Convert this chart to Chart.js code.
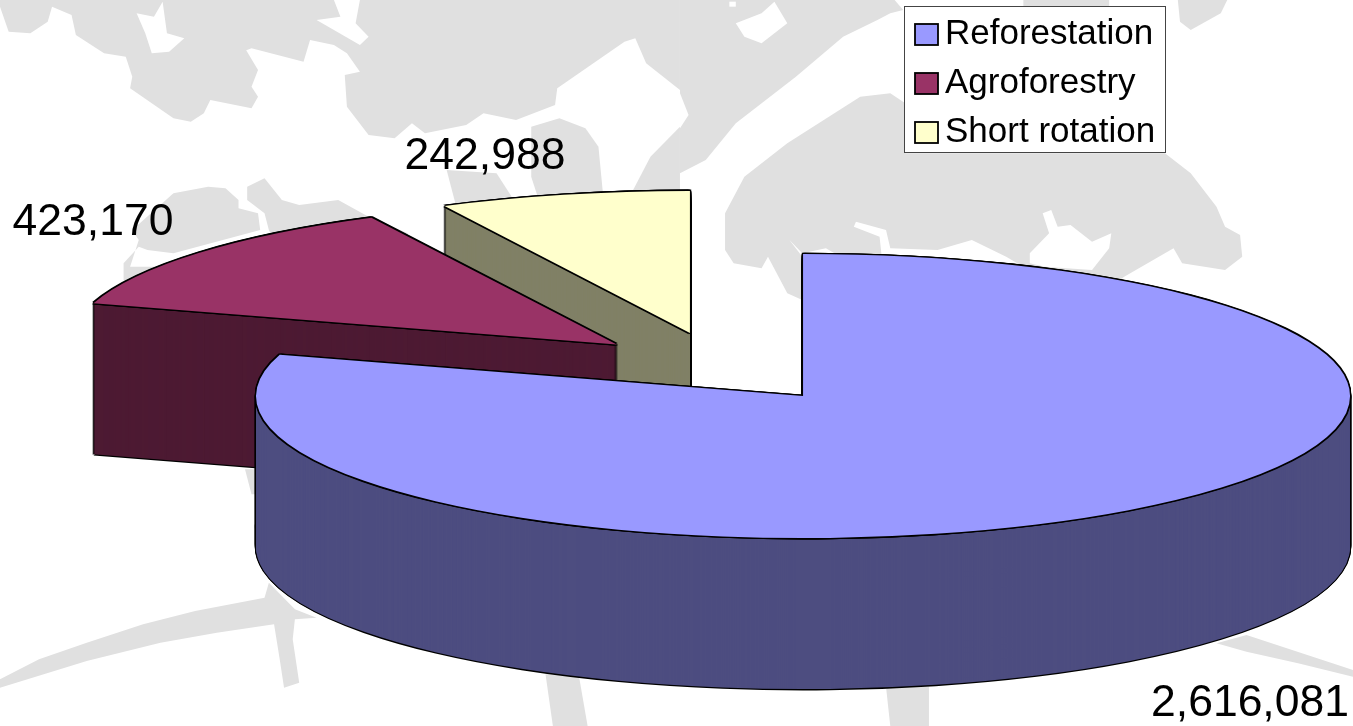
<!DOCTYPE html>
<html>
<head>
<meta charset="utf-8">
<title>Forest area by activity</title>
<script src="https://cdn.jsdelivr.net/npm/chart.js@4/dist/chart.umd.min.js"></script>
<style>
  html, body { margin: 0; padding: 0; background: #fff; }
  canvas { display: block; }
</style>
</head>
<body>
<canvas id="pieChart" width="1353" height="726"></canvas>
<script>
const categories = ['Reforestation', 'Agroforestry', 'Short rotation'];
const areaValues = [2616081, 423170, 242988];
const topColors = ['#9999FF', '#993366', '#FFFFCC'];
const wallColors = ['#4D4D80', '#4D1A33', '#808066'];

// 3D look of the pie
const radiusPx = 547;
const tilt = 0.2596;
const depthPx = 151;
const explodePx = 137;
const lineW = 1.3;

// centre of each value label on the page
const labelSpots = [[1250, 704], [93, 223], [485, 157]];

// watermark map behind the chart, traced in crop coordinates: [offsetX, offsetY, scaleX, colour, points]
const G = '#E0E0E0', W = '#FFFFFF';
const watermark = [
  [0, 0, 2.306, G, [0,20, 20,95, 70,100, 110,65, 120,20, 165,45, 175,105, 240,160, 290,170, 305,230, 300,265, 400,355, 440,365, 470,340, 485,300, 580,325, 595,290, 580,260, 595,210, 565,145, 540,165, 580,145, 700,185, 715,120, 770,135, 800,160, 830,215, 795,225, 800,320, 850,405, 910,415, 950,370, 980,400, 1075,375, 1115,340, 1190,360, 1280,315, 1285,265, 1440,125, 1465,115, 1490,190, 1568,270, 1568,0, 0,0]],
  [0, 0, 2.306, W, [315,40, 355,50, 375,5, 385,100, 425,115, 390,155, 350,160, 335,100]],
  [0, 0, 2.306, W, [770,0, 785,50, 730,60, 830,135, 850,110, 820,70, 830,0]],
  [0, 0, 2.306, G, [1225,380, 1290,355, 1350,385, 1380,440, 1390,575, 1240,590, 1225,530]],
  [0, 0, 2.306, G, [1030,510, 1145,520, 1180,590, 1050,610]],
  [0, 0, 2.306, G, [1568,380, 1500,470, 1460,570, 1568,570]],
  [0, 0, 2.306, G, [400,580, 480,560, 520,565, 550,600, 550,625, 595,640, 600,690, 400,760, 340,750, 320,740, 285,790, 285,840, 330,900, 700,900, 620,690, 610,640, 570,600, 570,560, 610,535, 650,600, 690,615, 780,600, 850,650, 880,665, 940,700, 945,730, 700,800, 300,800, 320,720, 305,690]],
  [680, 0, 2.33, G, [0,0, 225,0, 500,0, 520,30, 490,40, 460,60, 380,110, 270,230, 130,370, 60,480, 0,520, 0,385, 20,345, 0,280]],
  [680, 0, 2.33, W, [115,5, 130,5, 130,20, 115,20]],
  [680, 0, 2.33, W, [130,70, 190,40, 220,5, 250,70, 190,130, 150,110]],
  [680, 0, 2.33, G, [800,0, 1000,0, 1000,18, 800,18]],
  [680, 0, 2.33, G, [1160,0, 1275,0, 1260,40, 1190,90, 1165,65]],
  [680, 0, 2.33, G, [105,640, 150,530, 250,430, 420,290, 490,280, 525,310, 525,460, 1130,460, 1190,520, 1250,620, 1270,680, 1305,705, 1310,770, 1270,810, 1170,790, 1150,745, 1035,830, 960,900, 285,900, 250,880, 205,770, 190,805, 125,790, 105,750]],
  [680, 0, 2.33, W, [255,720, 285,760, 340,745, 360,760, 420,770, 470,770, 465,710, 405,680, 410,665, 480,690, 490,745, 600,750, 680,720, 760,770, 800,800, 800,900, 285,900, 285,770]],
  [680, 0, 2.33, W, [845,640, 865,630, 880,680, 910,675, 960,725, 1005,700, 1000,745, 960,810, 850,800, 815,790, 815,760, 860,700]],
  [0, 426, 2.306, G, [0,760, 90,700, 200,650, 330,595, 450,555, 610,515, 620,470, 680,550, 730,575, 680,580, 675,640, 690,770, 655,785, 645,700, 632,595, 500,620, 370,650, 200,705, 0,785]],
  [0, 426, 2.306, G, [565,130, 590,130, 590,205, 580,205]],
  [0, 426, 2.306, G, [1258,745, 1335,750, 1355,900, 1275,900]],
  [680, 500, 2.33, G, [480,560, 580,560, 580,678, 490,678]],
  [680, 500, 2.33, G, [1250,430, 1320,405, 1568,510, 1568,530, 1440,490, 1320,455]]
];

function drawWatermark(ctx){
    for(let i=0; i<watermark.length; i++){
        let s = watermark[i];
        ctx.fillStyle = s[3];
        ctx.beginPath();
        for(let p=0; p<s[4].length; p+=2){
            ctx.lineTo(s[0] + s[4][p]/s[2], s[1] + s[4][p+1]/3);
        }
        ctx.closePath();
        ctx.fill();
    }
}

// draw one library arc, squashed, exploded along its own mid angle and shifted by dx,dy
function paintArc(ctx, arc, color, dx, dy){
    let mid = (arc.startAngle + arc.endAngle) / 2;
    let saved = arc.options;
    arc.options = {
        backgroundColor: color, borderColor: color, borderWidth: 0, borderAlign: 'center',
        borderJoinStyle: 'round', borderRadius: 0, borderDash: [], borderDashOffset: 0,
        offset: 0, spacing: 0, circular: true, selfJoin: false
    };
    ctx.save();
    ctx.translate(arc.x + dx, arc.y + dy);
    ctx.scale(1, tilt);
    ctx.translate(Math.cos(mid) * explodePx, Math.sin(mid) * explodePx);
    ctx.translate(-arc.x, -arc.y);
    arc.draw(ctx);
    ctx.restore();
    arc.options = saved;
}

const exploded3d = {
    id: 'exploded3d',
    beforeDraw(chart){
        let ctx = chart.ctx;
        ctx.save();
        ctx.fillStyle = '#fff';
        ctx.fillRect(0, 0, chart.width, chart.height);
        drawWatermark(ctx);
        // legend frame
        ctx.fillStyle = '#fff';
        ctx.strokeStyle = '#444';
        ctx.lineWidth = 1;
        ctx.fillRect(904.5, 6.5, 261, 146);
        ctx.strokeRect(904.5, 6.5, 261, 146);
        ctx.restore();
    },
    afterLayout(chart){
        let lg = chart.legend;
        let w = lg.width, h = lg.height;
        lg.left = 901; lg.right = 901 + w;
        lg.top = 3; lg.bottom = 3 + h;
    },
    beforeDatasetsDraw(chart){
        let ctx = chart.ctx;
        let arcs = chart.getDatasetMeta(0).data;

        // legend swatches are wider than the gap the library keeps before the text
        chart.legend.legendItems.forEach(function(item, i){
            let hit = chart.legend.legendHitBoxes[i];
            let y = hit.top + (hit.height - 21) / 2;
            ctx.fillStyle = topColors[i];
            ctx.strokeStyle = '#000';
            ctx.lineWidth = 1.8;
            ctx.fillRect(hit.left, y, 23, 21);
            ctx.strokeRect(hit.left, y, 23, 21);
        });

        // back to front: short rotation, agroforestry, reforestation
        for(let i=arcs.length-1; i>=0; i--){
            let arc = arcs[i];
            for(let d=depthPx; d>=0; d--){
                paintArc(ctx, arc, '#000', -lineW, d);
                paintArc(ctx, arc, '#000', lineW, d);
            }
            paintArc(ctx, arc, '#000', 0, depthPx + lineW);
            for(let d=depthPx; d>=0; d--){
                paintArc(ctx, arc, wallColors[i], 0, d);
            }
            [[-1,0],[1,0],[0,-1],[0,1],[-1,-1],[1,-1],[-1,1],[1,1]].forEach(function(o){
                paintArc(ctx, arc, '#000', o[0]*lineW, o[1]*lineW);
            });
            paintArc(ctx, arc, topColors[i], 0, 0);
        }

        // value labels
        ctx.fillStyle = '#000';
        ctx.font = '44.5px "Liberation Sans"';
        ctx.textAlign = 'center';
        ctx.textBaseline = 'middle';
        for(let i=0; i<areaValues.length; i++){
            ctx.fillText(areaValues[i].toLocaleString('en-US'), labelSpots[i][0], labelSpots[i][1]);
        }
        return false;
    }
};

new Chart(document.getElementById('pieChart'), {
    type: 'pie',
    plugins: [exploded3d],
    data: {
        labels: categories,
        datasets: [{
            data: areaValues,
            backgroundColor: topColors,
            borderColor: '#000',
            borderWidth: 0,
            radius: radiusPx
        }]
    },
    options: {
        responsive: false,
        animation: false,
        layout: { padding: { left: 90, top: 9 } },
        plugins: {
            tooltip: { enabled: false },
            legend: {
                display: true,
                position: 'chartArea',
                align: 'start',
                labels: {
                    boxWidth: 12.5,
                    boxHeight: 21,
                    padding: 14,
                    color: '#000',
                    font: { family: '"Liberation Sans"', size: 35 }
                }
            }
        }
    }
});
</script>
</body>
</html>
